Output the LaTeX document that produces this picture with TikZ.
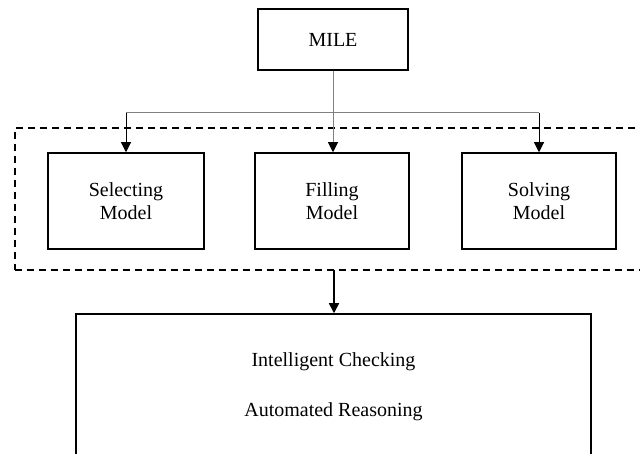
\documentclass[tikz,border=0pt]{standalone}
\usepackage{fontspec}
\setmainfont{Liberation Serif}
\usetikzlibrary{arrows.meta}
\begin{document}
\begin{tikzpicture}[x=1pt,y=-1pt,
  box/.style={draw, line width=1.5pt, rectangle, inner sep=0pt, align=center, font=\fontsize{20}{23}\selectfont},
  txt/.style={inner sep=0pt, font=\fontsize{20}{23}\selectfont},
  thinline/.style={draw=gray, line width=1pt},
  arr/.style={-{Triangle[width=10pt,length=10pt,color=black]}, line width=1pt}]
\useasboundingbox (0,0) rectangle (640,454);
\clip (0,0) rectangle (640,454);
% nodes
\node[box, minimum width=150pt, minimum height=61pt] (mile) at (333,39.5) {MILE};
\node[box, minimum width=156pt, minimum height=96pt] (sel) at (126,201) {Selecting\\Model};
\node[box, minimum width=154pt, minimum height=96pt] (fil) at (332,201) {Filling\\Model};
\node[box, minimum width=154pt, minimum height=96pt] (sol) at (539,201) {Solving\\Model};
\node[draw, dash pattern=on 7pt off 5pt, line width=1.5pt, rectangle, minimum width=665pt, minimum height=142pt, inner sep=0pt] (group) at (347.5,199) {};
\node[box, minimum width=515pt, minimum height=156pt] (bot) at (333.5,392) {};
\node[txt] (ic) at (333.5,362) {Intelligent Checking};
\node[txt] (ar) at (333.5,412) {Automated Reasoning};
% connectors
\coordinate (jL) at (126,113);
\coordinate (jR) at (539,113);
\coordinate (db) at (334,270);
\draw[thinline] (jL) -- (jR);
\draw[arr, draw=gray] (mile.south) -- (mile.south |- fil.north);
\draw[arr] (jL) -- (sel.north);
\draw[arr] (jR) -- (sol.north);
\draw[arr, line width=1.5pt] (db) -- (db |- bot.north);
\end{tikzpicture}
\end{document}
